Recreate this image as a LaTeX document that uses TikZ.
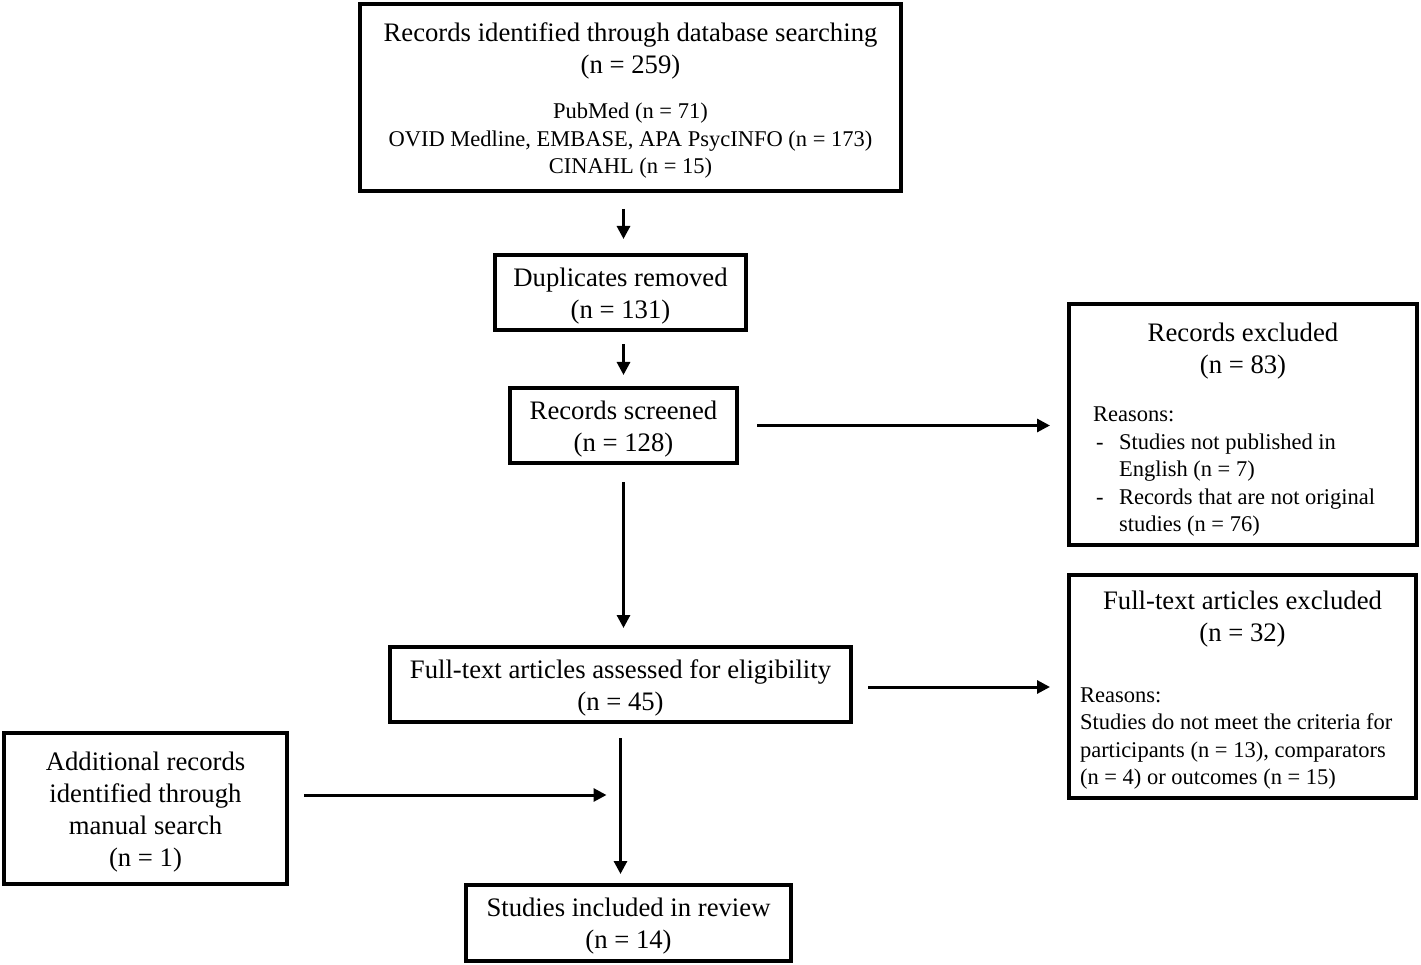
\documentclass[tikz,border=0pt]{standalone}
\usepackage{fontspec}
\setmainfont{Liberation Serif}
\usetikzlibrary{arrows.meta}

\newcommand\bigtxt{\fontsize{26.7}{32}\selectfont}
\newcommand\smalltxt{\fontsize{22.5}{27.5}\selectfont}
\newcommand\topstrut{\rule{0pt}{25.5pt}}

\tikzset{
  box/.style={draw, rectangle, line width=4pt, inner sep=0pt, font=\bigtxt, align=flush center},
  arr/.style={line width=3pt, -{Triangle[length=13pt,width=13pt]}},
}

\begin{document}
\begin{tikzpicture}[x=1pt,y=-1pt]
\useasboundingbox (0,0) rectangle (1421,965);

% boxes of the main column
\node[box, minimum width=541pt, minimum height=187pt, text width=530pt] (search) at (630.5,97.5)
  {\topstrut Records identified through database searching\par (n = 259)\par
   \vspace{17.5pt}\smalltxt PubMed (n = 71)\par OVID Medline, EMBASE, APA PsycINFO (n = 173)\par CINAHL (n = 15)\par};
\node[box, minimum width=251pt, minimum height=75pt] (dup) at (620.5,292.5)
  {\topstrut Duplicates removed\\(n = 131)};
\node[box, minimum width=227pt, minimum height=75pt] (screened) at (623.5,425.5)
  {\topstrut Records screened\\(n = 128)};
\node[box, minimum width=461pt, minimum height=75pt] (full) at (620.5,684.5)
  {\topstrut Full-text articles assessed for eligibility\\(n = 45)};
\node[box, minimum width=325pt, minimum height=76pt] (incl) at (628.5,923)
  {\topstrut Studies included in review\\(n = 14)};

% boxes on the sides
\node[box, align=flush left, minimum width=348pt, minimum height=241pt, text width=316pt, inner xsep=16pt] (excl) at (1243,424.5)
  {{\centering\rule{0pt}{29pt}Records excluded\par (n = 83)\par}
   \vspace{20.5pt}\smalltxt\leftskip=8pt Reasons:\par
   \makebox[26pt][l]{\hspace*{3pt}-}Studies not published in\par
   \hspace*{26pt}English (n = 7)\par
   \makebox[26pt][l]{\hspace*{3pt}-}Records that are not original\par
   \hspace*{26pt}studies (n = 76)\par};
\node[box, align=flush left, minimum width=347pt, minimum height=223pt, text width=333pt, inner xsep=7pt] (ftex) at (1242.5,686.5)
  {{\centering\topstrut Full-text articles excluded\par (n = 32)\par}
   \vspace{33.5pt}\smalltxt\leftskip=4pt Reasons:\par
   Studies do not meet the criteria for\par
   participants (n = 13), comparators\par
   (n = 4) or outcomes (n = 15)\par};
\node[box, minimum width=283pt, minimum height=151pt] (add) at (145.5,808.5)
  {\topstrut Additional records\\identified through\\manual search\\(n = 1)};

\coordinate (join) at (620.5,795);

% arrows
\draw[arr, shorten <=16pt, shorten >=14pt] (screened.north |- search.south) -- (screened.north |- dup.north);
\draw[arr, shorten <=12.5pt, shorten >=11pt] (screened.north |- dup.south) -- (screened.north);
\draw[arr, shorten <=17pt, shorten >=17pt] (screened.south) -- (screened.south |- full.north);
\draw[arr, shorten <=18pt, shorten >=17pt] (screened.east) -- (screened.east -| excl.west);
\draw[arr, shorten <=15pt, shorten >=17pt] ([yshift=-2.5pt]full.east) -- ([yshift=-2.5pt]full.east -| ftex.west);
\draw[arr, shorten <=14pt, shorten >=9pt] (full.south) -- (full.south |- incl.north);
\draw[arr, shorten <=15pt, shorten >=14pt] (add.east |- join) -- (join);

\end{tikzpicture}
\end{document}
